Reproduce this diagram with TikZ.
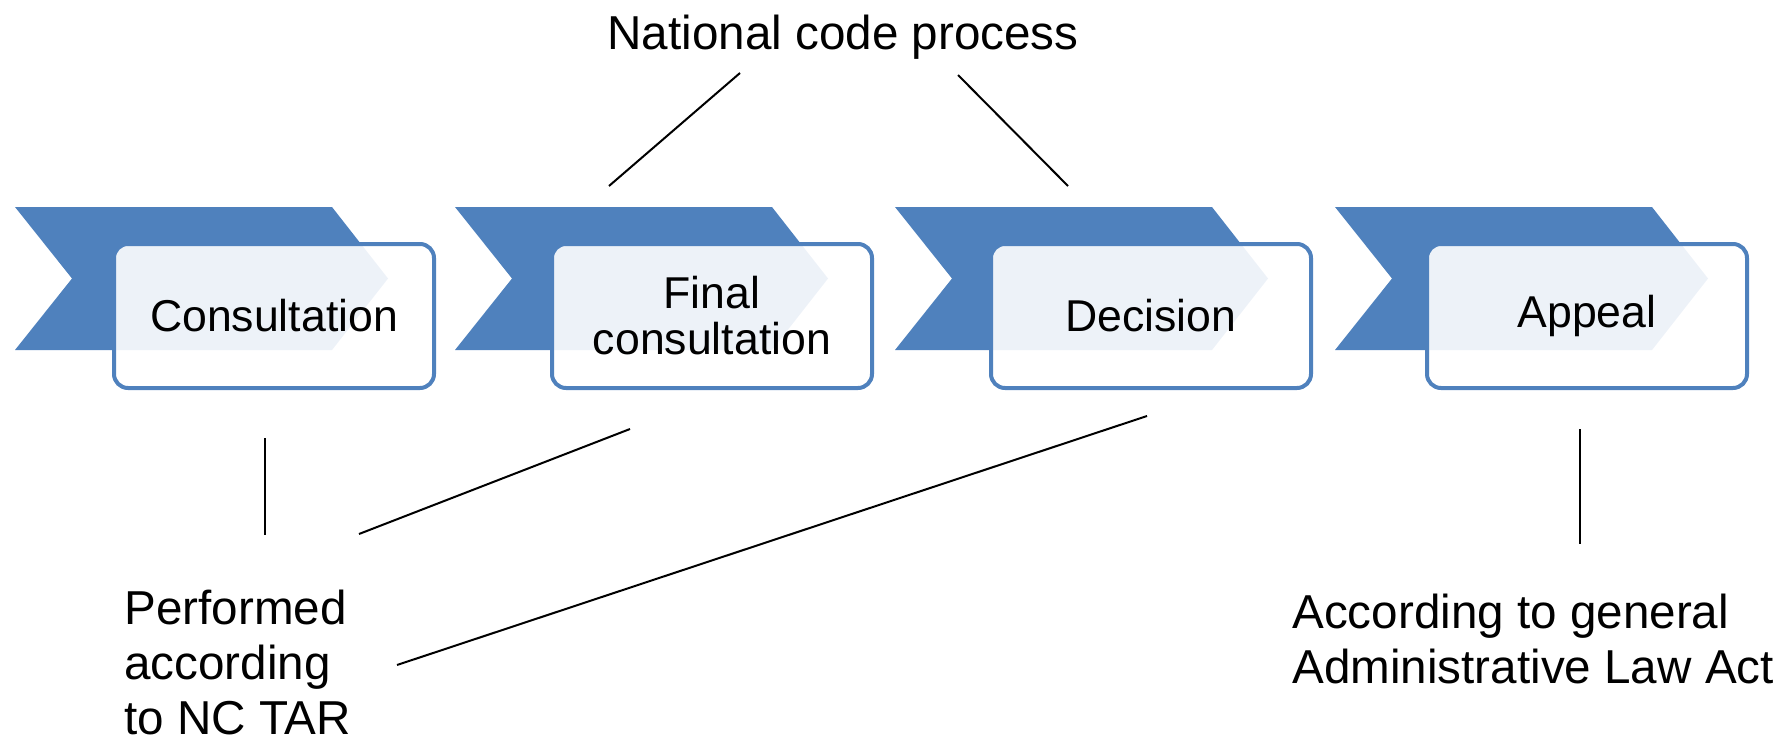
\documentclass[tikz,border=0pt]{standalone}
\usepackage{fontspec}
\setmainfont{Liberation Sans}
\definecolor{stageblue}{HTML}{4F81BD}
\tikzset{
  chevron/.style={fill=stageblue},
  stagebox/.style={draw=stageblue,line width=2pt,rounded corners=7pt,fill=white,fill opacity=0.9,text opacity=1,
    minimum width=160pt,minimum height=72pt,inner sep=0pt,align=center,font=\fontsize{22.3}{23}\selectfont},
  note/.style={inner sep=0pt,font=\fontsize{23.8}{27.5}\selectfont},
  link/.style={line width=1pt}
}

\begin{document}
\begin{tikzpicture}[x=0.5pt,y=-0.5pt]
  \useasboundingbox (0,0) rectangle (1785,744);

  %chevrons behind the stages
  \fill[chevron] (15,207) -- (332,207) -- (388,278.5) -- (332,350) -- (15,350) -- (72,278.5) -- cycle;
  \fill[chevron] (455,207) -- (772,207) -- (828,278.5) -- (772,350) -- (455,350) -- (512,278.5) -- cycle;
  \fill[chevron] (895,207) -- (1212,207) -- (1268,278.5) -- (1212,350) -- (895,350) -- (952,278.5) -- cycle;
  \fill[chevron] (1335,207) -- (1652,207) -- (1708,278.5) -- (1652,350) -- (1335,350) -- (1392,278.5) -- cycle;

  %stages
  \node[stagebox] (consult) at (274,316) {Consultation};
  \node[stagebox] (final) at (712,316) {Final\\consultation};
  \node[stagebox] (decision) at (1151,316) {Decision};
  \node[stagebox] (appeal) at (1587,316) {Appeal};

  %notes
  \node[note,anchor=base] (national) at (843,49) {National code process};
  \node[note,anchor=north west,align=left] (ncTAR) at (124,590) {Performed\\according\\to NC TAR};
  \node[note,anchor=north west,align=left] (general) at (1292,594) {According to general\\Administrative Law Act};

  %line ends
  \coordinate (nat-a) at (740,73);  \coordinate (nat-b) at (609,186);
  \coordinate (nat-c) at (958,75);  \coordinate (nat-d) at (1068,186);
  \coordinate (tar-a) at (265,438); \coordinate (tar-b) at (265,535);
  \coordinate (tar-c) at (630,429); \coordinate (tar-d) at (359,534);
  \coordinate (tar-e) at (1147,416); \coordinate (tar-f) at (397,665);
  \coordinate (gen-a) at (1580,429); \coordinate (gen-b) at (1580,544);

  \draw[link] (nat-a) -- (nat-b);
  \draw[link] (nat-c) -- (nat-d);
  \draw[link] (tar-a) -- (tar-b);
  \draw[link] (tar-c) -- (tar-d);
  \draw[link] (tar-e) -- (tar-f);
  \draw[link] (gen-a) -- (gen-b);
\end{tikzpicture}
\end{document}
